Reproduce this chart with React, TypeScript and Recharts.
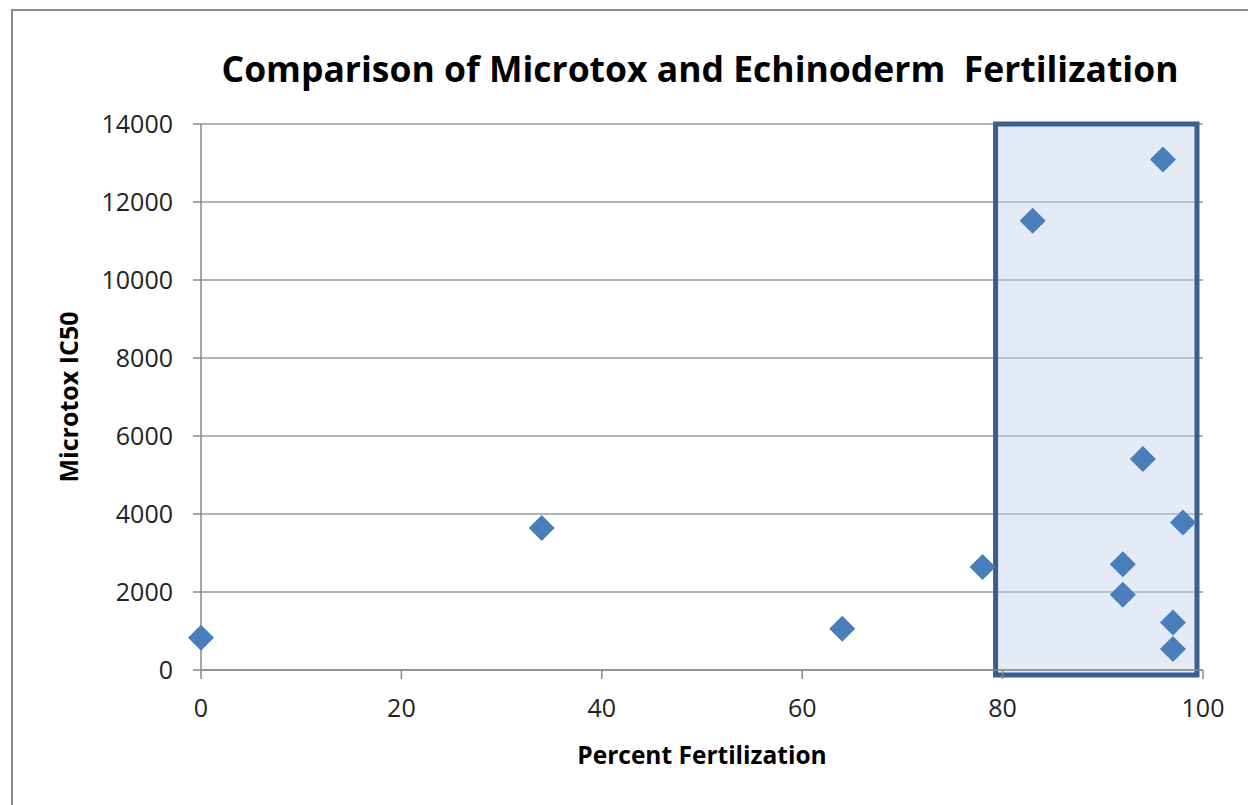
import { CartesianGrid, Label, ReferenceArea, Scatter, ScatterChart, XAxis, YAxis } from "recharts";

// Percent fertilization vs Microtox IC50
const fertilization = [0, 34, 64, 78, 83, 96, 94, 98, 92, 92, 97, 97];
const ic50 = [830, 3640, 1060, 2640, 11520, 13090, 5410, 3780, 2710, 1930, 1220, 540];

const xTicks = [0, 20, 40, 60, 80, 100];
const yTicks = [0, 2000, 4000, 6000, 8000, 10000, 12000, 14000];

// highlighted box around the high-fertilization samples
const boxX = [79.3, 99.4];
const boxY = [-130, 14000];

const points = fertilization.map((x, i) => ({ x, y: ic50[i] }));

const font = "'Open Sans', 'Liberation Sans', sans-serif";

// Excel-style square diamond marker
function Diamond(props: { cx?: number; cy?: number }) {
  const { cx = 0, cy = 0 } = props;
  const r = 13;
  return (
    <polygon
      points={`${cx},${cy - r} ${cx + r},${cy} ${cx},${cy + r} ${cx - r},${cy}`}
      fill="#4a7ebb"
    />
  );
}

export default function App() {
  return (
    <div
      style={{
        position: "absolute",
        left: 0,
        top: 0,
        width: 1248,
        height: 805,
        overflow: "hidden",
        background: "#fff",
        fontFamily: font,
      }}
    >
      <div
        style={{
          position: "absolute",
          left: 11,
          top: 9,
          width: 1300,
          height: 900,
          border: "2px solid #8a8a8a",
        }}
      />
      <span
        style={{
          position: "absolute",
          left: 700,
          top: 44,
          transform: "translateX(-50%)",
          fontWeight: 700,
          fontSize: 35.5,
          color: "#000",
          whiteSpace: "pre",
        }}
      >
        {"Comparison of Microtox and Echinoderm  Fertilization"}
      </span>
      <div style={{ position: "absolute", left: 0, top: 0 }}>
        <ScatterChart width={1248} height={805} margin={{ top: 124, right: 45, bottom: 75, left: 101 }}>
          <CartesianGrid horizontal vertical={false} stroke="#9a9a9a" strokeWidth={1.5} />
          <XAxis
            type="number"
            dataKey="x"
            domain={[0, 100]}
            ticks={xTicks}
            height={60}
            tickSize={9}
            tickMargin={20}
            axisLine={{ stroke: "#8a8a8a", strokeWidth: 1.5 }}
            tickLine={{ stroke: "#8a8a8a", strokeWidth: 1.5 }}
            tick={{ fontSize: 25, fill: "#222", fontFamily: font }}
          >
            <Label
              value="Percent Fertilization"
              position="bottom"
              offset={17}
              style={{ fontSize: 24.5, fontWeight: 700, fill: "#000", fontFamily: font }}
            />
          </XAxis>
          <YAxis
            type="number"
            dataKey="y"
            domain={[0, 14000]}
            ticks={yTicks}
            width={100}
            tickSize={8}
            tickMargin={20}
            axisLine={{ stroke: "#8a8a8a", strokeWidth: 1.5 }}
            tickLine={{ stroke: "#8a8a8a", strokeWidth: 1.5 }}
            tick={{ fontSize: 25, fill: "#222", fontFamily: font }}
          >
            <Label
              value="Microtox IC50"
              angle={-90}
              position="insideLeft"
              offset={-32}
              style={{ fontSize: 25, fontWeight: 700, fill: "#000", fontFamily: font, textAnchor: "middle" }}
            />
          </YAxis>
          <ReferenceArea
            x1={boxX[0]}
            x2={boxX[1]}
            y1={boxY[0]}
            y2={boxY[1]}
            ifOverflow="visible"
            fill="#c3d2ea"
            fillOpacity={0.45}
            stroke="#3b5f8c"
            strokeWidth={5}
          />
          <Scatter data={points} shape={<Diamond />} fill="#4a7ebb" isAnimationActive={false} />
        </ScatterChart>
      </div>
    </div>
  );
}
